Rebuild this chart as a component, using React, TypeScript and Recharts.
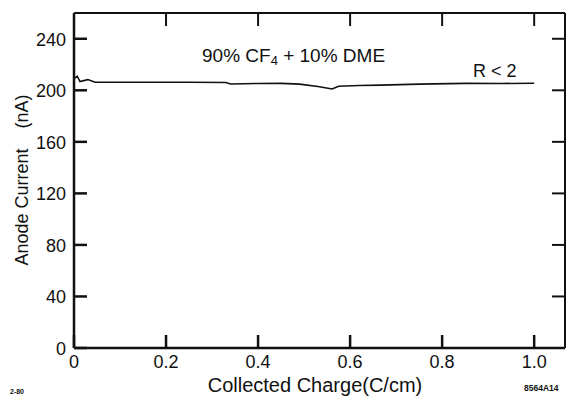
import { LineChart, Line, XAxis, YAxis, Label } from 'recharts';

const charge = [0, 0.007, 0.013, 0.03, 0.046, 0.15, 0.25, 0.33, 0.34, 0.4, 0.45, 0.49, 0.53, 0.561, 0.575, 0.62, 0.667, 0.75, 0.85, 0.93, 1.0];
const current = [209, 211, 206.8, 208.3, 206.3, 206.2, 206.3, 206.1, 204.9, 205.3, 205.4, 204.8, 203.0, 201, 203.2, 203.7, 204, 204.8, 205.4, 205.3, 205.5];

const xTicks = [0, 0.2, 0.4, 0.6, 0.8, 1.0];
const yTicks = [0, 40, 80, 120, 160, 200, 240];

const data = charge.map((c, i) => ({ charge: c, current: current[i] }));

const FONT = '"Liberation Sans", Arial, Helvetica, sans-serif';
const INK = '#111';
const PLOT = { left: 74, right: 565, top: 13, bottom: 348 };
const X_DOMAIN = [0, 1.067];
const Y_DOMAIN = [0, 260];

const bottomTick = ({ x, payload }: any) => (
  <text x={x} y={362} textAnchor="middle" dominantBaseline="central" fontSize={18} fontFamily={FONT} fill={INK}>
    {payload.value === 0 ? '0' : Number(payload.value).toFixed(1)}
  </text>
);

const leftTick = ({ y, payload }: any) => (
  <text x={66} y={y + 1} textAnchor="end" dominantBaseline="central" fontSize={18} fontFamily={FONT} fill={INK}>
    {payload.value}
  </text>
);

const textStyle = { position: 'absolute' as const, fontFamily: FONT, color: INK, whiteSpace: 'nowrap' as const, lineHeight: 1 };

export default function App() {
  return (
    <div style={{ position: 'absolute', left: 0, top: 0, width: 573, height: 396, background: '#fff' }}>
      <LineChart width={573} height={396} data={data} margin={{ top: 0, right: 0, left: 0, bottom: 0 }}>
        <XAxis
          xAxisId="b"
          dataKey="charge"
          type="number"
          domain={X_DOMAIN}
          ticks={xTicks}
          interval={0}
          height={396 - PLOT.bottom}
          stroke={INK}
          strokeWidth={2.5}
          tickSize={-13}
          tick={bottomTick}
        >
          <Label
            content={() => (
              <text x={315} y={385} textAnchor="middle" dominantBaseline="central" fontSize={20} fontFamily={FONT} fill={INK}>
                Collected Charge(C/cm)
              </text>
            )}
          />
        </XAxis>
        <XAxis
          xAxisId="t"
          orientation="top"
          dataKey="charge"
          type="number"
          domain={X_DOMAIN}
          ticks={xTicks}
          interval={0}
          height={PLOT.top}
          stroke={INK}
          strokeWidth={2}
          tickSize={-13}
          tickFormatter={() => ''}
        />
        <YAxis
          yAxisId="l"
          type="number"
          domain={Y_DOMAIN}
          ticks={yTicks}
          interval={0}
          width={PLOT.left}
          stroke={INK}
          strokeWidth={2.5}
          tickSize={-13}
          tick={leftTick}
        >
          <Label
            content={() => (
              <text
                x={22}
                y={180}
                transform="rotate(-90 22 180)"
                textAnchor="middle"
                dominantBaseline="central"
                fontSize={18}
                fontFamily={FONT}
                fill={INK}
              >
                {'Anode Current\u00A0\u00A0\u00A0\u00A0(nA)'}
              </text>
            )}
          />
        </YAxis>
        <YAxis
          yAxisId="r"
          orientation="right"
          type="number"
          domain={Y_DOMAIN}
          ticks={yTicks}
          interval={0}
          width={573 - PLOT.right}
          stroke={INK}
          strokeWidth={2}
          tickSize={-13}
          tickFormatter={() => ''}
        />
        <Line
          xAxisId="b"
          yAxisId="l"
          dataKey="current"
          type="linear"
          stroke={INK}
          strokeWidth={1.6}
          dot={false}
          isAnimationActive={false}
        />
        <Line
          xAxisId="t"
          yAxisId="r"
          dataKey="current"
          type="linear"
          stroke="none"
          dot={false}
          activeDot={false}
          isAnimationActive={false}
        />
      </LineChart>

      <div style={{ ...textStyle, left: 202, top: 46, fontSize: 19 }}>
        90% CF<sub style={{ fontSize: 13, verticalAlign: '-3px' }}>4</sub> + 10% DME
      </div>
      <div style={{ ...textStyle, left: 473, top: 62, fontSize: 18 }}>R &lt; 2</div>
      <div style={{ ...textStyle, left: 10, top: 388, fontSize: 7, fontWeight: 700 }}>2-80</div>
      <div style={{ ...textStyle, left: 524, top: 384, fontSize: 8.5, fontWeight: 700 }}>8564A14</div>
    </div>
  );
}
